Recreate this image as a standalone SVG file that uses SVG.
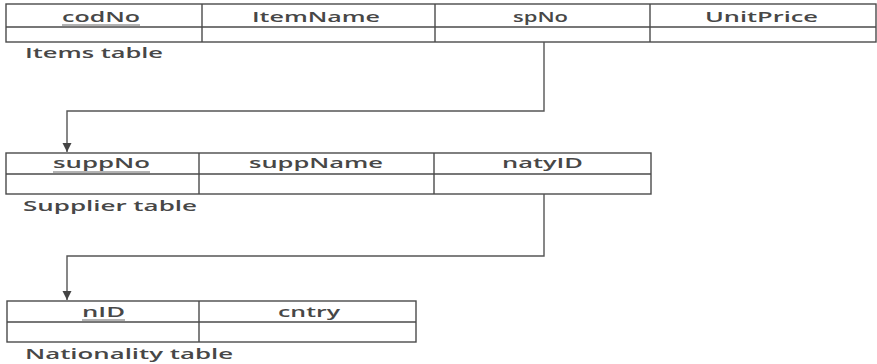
<svg xmlns="http://www.w3.org/2000/svg" width="877" height="364" viewBox="0 0 877 364">
<style>
.cell{fill:none;stroke:#4a4a4a;stroke-width:1.4}
.t{font-family:"Open Sans","Liberation Sans",sans-serif;font-size:15px;font-weight:600;fill:#474747}
.u{stroke:#666;stroke-width:1}
.conn{fill:none;stroke:#555;stroke-width:1.4}
</style>
<defs>
<marker id="arr" viewBox="0 0 10 10" refX="10" refY="5" markerWidth="9" markerHeight="10" markerUnits="userSpaceOnUse" orient="auto">
<path d="M0,0 L10,5 L0,10 z" fill="#444"/>
</marker>
</defs>
<rect width="877" height="364" fill="#fff"/>
<g id="items">
<rect class="cell" x="6" y="4" width="870" height="38"/>
<line class="cell" x1="6" y1="27" x2="876" y2="27"/>
<line class="cell" x1="202" y1="4" x2="202" y2="42"/>
<line class="cell" x1="435" y1="4" x2="435" y2="42"/>
<line class="cell" x1="650" y1="4" x2="650" y2="42"/>
<text class="t" x="62" y="22" textLength="78" lengthAdjust="spacingAndGlyphs">codNo</text>
<line class="u" x1="62" y1="25" x2="140" y2="25"/>
<text class="t" x="252" y="22" textLength="128" lengthAdjust="spacingAndGlyphs">ItemName</text>
<text class="t" x="513" y="22" textLength="55" lengthAdjust="spacingAndGlyphs">spNo</text>
<text class="t" x="705" y="22" textLength="113" lengthAdjust="spacingAndGlyphs">UnitPrice</text>
<text class="t" x="25" y="58" textLength="138" lengthAdjust="spacingAndGlyphs">Items table</text>
</g>
<g id="supplier">
<rect class="cell" x="6" y="153" width="645" height="41"/>
<line class="cell" x1="6" y1="174" x2="651" y2="174"/>
<line class="cell" x1="199" y1="153" x2="199" y2="194"/>
<line class="cell" x1="434" y1="153" x2="434" y2="194"/>
<text class="t" x="53" y="168" textLength="97" lengthAdjust="spacingAndGlyphs">suppNo</text>
<line class="u" x1="53" y1="172" x2="150" y2="172"/>
<text class="t" x="249" y="168" textLength="134" lengthAdjust="spacingAndGlyphs">suppName</text>
<text class="t" x="502" y="168" textLength="81" lengthAdjust="spacingAndGlyphs">natyID</text>
<text class="t" x="23" y="211" textLength="174" lengthAdjust="spacingAndGlyphs">Supplier table</text>
</g>
<g id="nationality">
<rect class="cell" x="7" y="301" width="409" height="41"/>
<line class="cell" x1="7" y1="322" x2="416" y2="322"/>
<line class="cell" x1="199" y1="301" x2="199" y2="342"/>
<text class="t" x="82" y="317" textLength="43" lengthAdjust="spacingAndGlyphs">nID</text>
<line class="u" x1="82" y1="320" x2="125" y2="320"/>
<text class="t" x="278" y="317" textLength="62" lengthAdjust="spacingAndGlyphs">cntry</text>
<text class="t" x="25" y="359" textLength="208" lengthAdjust="spacingAndGlyphs">Nationality table</text>
</g>
<g id="connectors">
<path class="conn" d="M544,42 V111 H67 V152" marker-end="url(#arr)"/>
<path class="conn" d="M544,194 V256 H67 V300" marker-end="url(#arr)"/>
</g>
</svg>
